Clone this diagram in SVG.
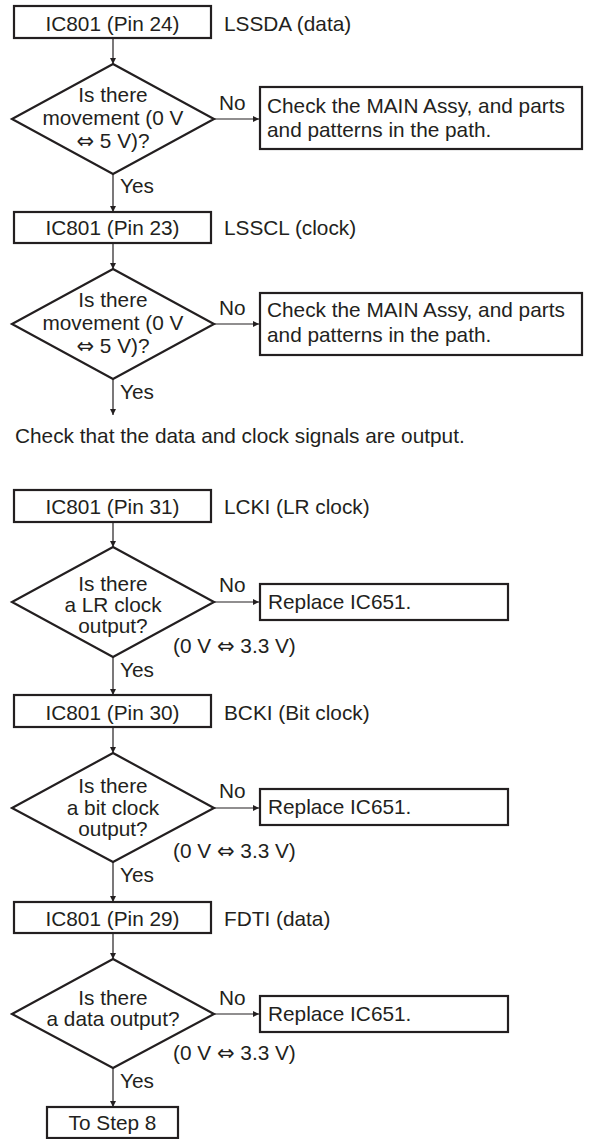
<svg xmlns="http://www.w3.org/2000/svg" width="589" height="1139" viewBox="0 0 589 1139">
<defs>
<marker id="ah" viewBox="0 0 10 10" refX="10" refY="5" markerWidth="8" markerHeight="6" markerUnits="userSpaceOnUse" orient="auto">
<path d="M0,0 L10,5 L0,10 Z" fill="#231f20"/>
</marker>
<style>
text{font-family:"Liberation Sans",Arial,Helvetica,sans-serif;font-size:20.8px;fill:#231f20}
.c{text-anchor:middle}
.ar{font-family:"DejaVu Sans",sans-serif;font-size:21px}
.box{fill:#fff;stroke:#231f20;stroke-width:2.2}
.dia{fill:#fff;stroke:#231f20;stroke-width:2.2}
.ln{stroke:#231f20;stroke-width:1.2;fill:none;marker-end:url(#ah)}
</style>
</defs>
<rect width="589" height="1139" fill="#fff"/>
<g id="connectors">
<line class="ln" x1="113" y1="38" x2="113" y2="64"/>
<line class="ln" x1="214" y1="119" x2="259" y2="119"/>
<line class="ln" x1="113" y1="174" x2="113" y2="212"/>
<line class="ln" x1="113" y1="243" x2="113" y2="269"/>
<line class="ln" x1="214" y1="324" x2="259" y2="324"/>
<line class="ln" x1="113" y1="379" x2="113" y2="415"/>
<line class="ln" x1="113" y1="522" x2="113" y2="547"/>
<line class="ln" x1="214" y1="602" x2="259" y2="602"/>
<line class="ln" x1="113" y1="657" x2="113" y2="695"/>
<line class="ln" x1="113" y1="727" x2="113" y2="753"/>
<line class="ln" x1="214" y1="808" x2="259" y2="808"/>
<line class="ln" x1="113" y1="862" x2="113" y2="902"/>
<line class="ln" x1="113" y1="933" x2="113" y2="959"/>
<line class="ln" x1="214" y1="1014" x2="259" y2="1014"/>
<line class="ln" x1="113" y1="1068" x2="113" y2="1107"/>
<text x="219" y="110">No</text>
<text x="219" y="315">No</text>
<text x="219" y="592">No</text>
<text x="219" y="798">No</text>
<text x="219" y="1005">No</text>
<text x="120" y="193">Yes</text>
<text x="120" y="399">Yes</text>
<text x="120" y="677">Yes</text>
<text x="120" y="882">Yes</text>
<text x="120" y="1088">Yes</text>
</g>
<g id="n1"><rect class="box" x="14" y="6" width="197" height="32"/><text class="c" x="112.5" y="31">IC801 (Pin 24)</text></g>
<g id="n1l"><text x="224" y="31">LSSDA (data)</text></g>
<g id="d1"><polygon class="dia" points="113,64 214,119 113,174 12,119"/>
<text class="c" x="113" y="102">Is there</text><text class="c" x="113" y="125">movement (0 V</text><text class="c" x="113" y="148"><tspan class="ar">⇔</tspan> 5 V)?</text></g>
<g id="n2"><rect class="box" x="260" y="87" width="322" height="62"/><text x="267" y="113">Check the MAIN Assy, and parts</text><text x="267" y="137">and patterns in the path.</text></g>
<g id="n3"><rect class="box" x="14" y="212" width="197" height="31"/><text class="c" x="112.5" y="235">IC801 (Pin 23)</text></g>
<g id="n3l"><text x="224" y="235">LSSCL (clock)</text></g>
<g id="d2"><polygon class="dia" points="113,269 214,324 113,379 12,324"/>
<text class="c" x="113" y="307">Is there</text><text class="c" x="113" y="330">movement (0 V</text><text class="c" x="113" y="353"><tspan class="ar">⇔</tspan> 5 V)?</text></g>
<g id="n4"><rect class="box" x="260" y="293" width="322" height="62"/><text x="267" y="317">Check the MAIN Assy, and parts</text><text x="267" y="342">and patterns in the path.</text></g>
<g id="note"><text x="15" y="443">Check that the data and clock signals are output.</text></g>
<g id="n5"><rect class="box" x="14" y="490" width="197" height="32"/><text class="c" x="112.5" y="514">IC801 (Pin 31)</text></g>
<g id="n5l"><text x="224" y="514">LCKI (LR clock)</text></g>
<g id="d3"><polygon class="dia" points="113,547 214,602 113,657 12,602"/>
<text class="c" x="113" y="591">Is there</text><text class="c" x="113" y="612">a LR clock</text><text class="c" x="113" y="633">output?</text></g>
<g id="r1"><rect class="box" x="260" y="584" width="248" height="36"/><text x="268" y="609">Replace IC651.</text></g>
<g id="v1"><text x="173" y="653">(0 V <tspan class="ar">⇔</tspan> 3.3 V)</text></g>
<g id="n6"><rect class="box" x="14" y="695" width="197" height="32"/><text class="c" x="112.5" y="720">IC801 (Pin 30)</text></g>
<g id="n6l"><text x="224" y="720">BCKI (Bit clock)</text></g>
<g id="d4"><polygon class="dia" points="113,753 214,808 113,862 12,808"/>
<text class="c" x="113" y="793">Is there</text><text class="c" x="113" y="815">a bit clock</text><text class="c" x="113" y="836">output?</text></g>
<g id="r2"><rect class="box" x="260" y="789" width="248" height="36"/><text x="268" y="814">Replace IC651.</text></g>
<g id="v2"><text x="173" y="858">(0 V <tspan class="ar">⇔</tspan> 3.3 V)</text></g>
<g id="n7"><rect class="box" x="14" y="902" width="197" height="31"/><text class="c" x="112.5" y="926">IC801 (Pin 29)</text></g>
<g id="n7l"><text x="224" y="926">FDTI (data)</text></g>
<g id="d5"><polygon class="dia" points="113,959 214,1014 113,1068 12,1014"/>
<text class="c" x="113" y="1005">Is there</text><text class="c" x="113" y="1026">a data output?</text></g>
<g id="r3"><rect class="box" x="260" y="996" width="248" height="36"/><text x="268" y="1021">Replace IC651.</text></g>
<g id="v3"><text x="173" y="1060">(0 V <tspan class="ar">⇔</tspan> 3.3 V)</text></g>
<g id="n8"><rect class="box" x="47" y="1107" width="131" height="31"/><text class="c" x="112.5" y="1130">To Step 8</text></g>
</svg>
